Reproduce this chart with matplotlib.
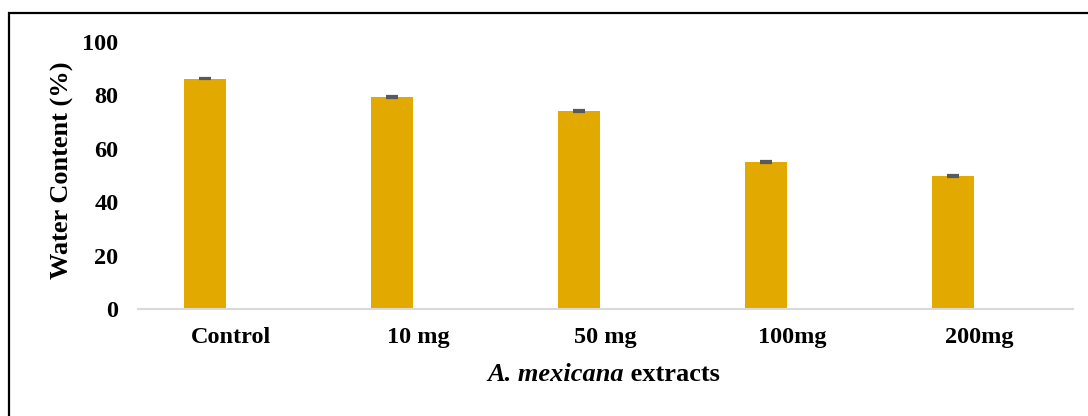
import matplotlib
matplotlib.use('Agg')
import matplotlib.pyplot as plt
from matplotlib.patches import Rectangle

# 各處理組與含水量
groups = ['Control', '10 mg', '50 mg', '100mg', '200mg']
water = [86.3, 79.3, 74.2, 55.0, 49.8]
err = [0.3, 0.3, 0.3, 0.3, 0.3]
yticks = [0, 20, 40, 60, 80, 100]

plt.rcParams['font.family'] = ['Liberation Serif', 'DejaVu Serif']
plt.rcParams['font.weight'] = 'bold'

fig = plt.figure(figsize=(10.88, 4.16), dpi=100)
ax = fig.add_axes([0.1268, 0.2572, 0.8594, 0.6418])

x = range(len(groups))
pos = [i - 0.142 for i in x]
ax.bar(pos, water, width=0.225, color='#E2AA00', zorder=2)
ax.errorbar(pos, water, yerr=err, fmt='none', ecolor='#595959',
            elinewidth=1, capsize=4.3, capthick=1.6, zorder=3)

ax.set_xlim(-0.5, len(groups) - 0.5)
ax.set_ylim(0, 100)
ax.set_yticks(yticks)
ax.set_xticks(list(x))
ax.set_xticklabels(groups)
ax.tick_params(axis='both', length=0, labelsize=17.5)
ax.tick_params(axis='y', pad=14)
ax.tick_params(axis='x', pad=13)

for s in ['top', 'right', 'left']:
    ax.spines[s].set_visible(False)
ax.spines['bottom'].set_color('#D9D9D9')
ax.spines['bottom'].set_linewidth(1.5)

fig.text(0.057, 0.59, 'Water Content (%)', rotation=90, ha='center',
         va='center', fontsize=19, fontweight='bold')

# x 軸標題：斜體學名 + 正體 extracts
t1 = fig.text(0, 0.10, 'A. mexicana', style='italic', fontweight='bold',
              fontsize=19, va='center')
t2 = fig.text(0, 0.10, ' extracts', fontweight='bold', fontsize=19,
              va='center')
r = fig.canvas.get_renderer()
w1 = t1.get_window_extent(r).width / fig.bbox.width
w2 = t2.get_window_extent(r).width / fig.bbox.width
x0 = 0.555 - (w1 + w2) / 2
t1.set_x(x0)
t2.set_x(x0 + w1)

# 外框
fig.patches.append(Rectangle((9 / 1088, -0.1), 1.2, (416 - 13) / 416 + 0.1,
                             transform=fig.transFigure, fill=False,
                             edgecolor='black', linewidth=1.6))

fig.savefig('out.png', dpi=100)
